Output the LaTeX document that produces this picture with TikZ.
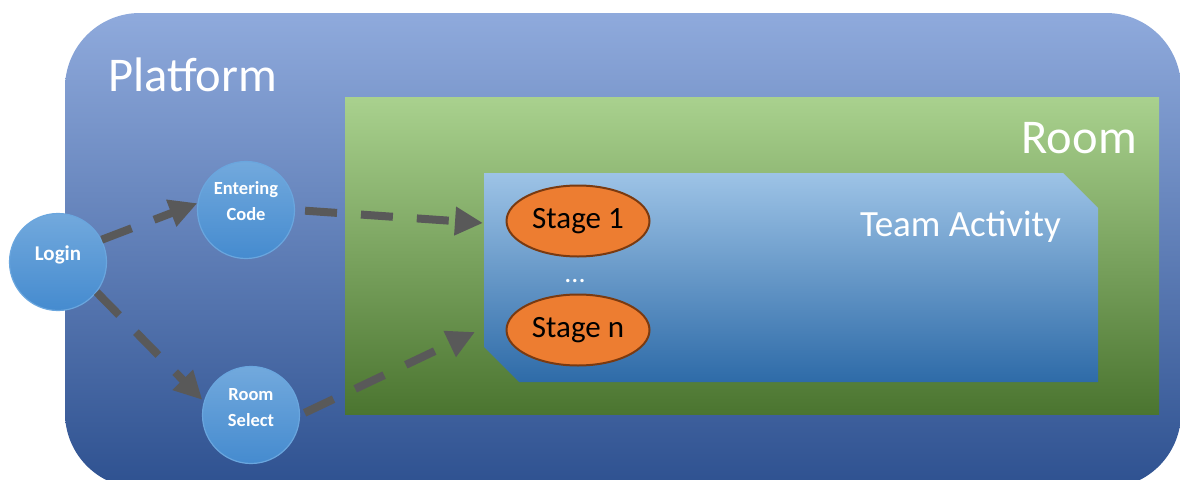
\documentclass[tikz,border=0pt]{standalone}
\usepackage{fontspec}
\setmainfont{Carlito}
\usetikzlibrary{arrows.meta,shapes.geometric}
\definecolor{platTop}{HTML}{8FAADC}
\definecolor{platMid}{HTML}{4472C4}
\definecolor{platBot}{HTML}{2E5190}
\definecolor{roomTop}{HTML}{A9D18E}
\definecolor{roomMid}{HTML}{70AD47}
\definecolor{roomBot}{HTML}{4B7530}
\definecolor{taTop}{HTML}{9DC3E6}
\definecolor{taMid}{HTML}{5B9BD5}
\definecolor{taBot}{HTML}{2E6BA8}
\definecolor{circTop}{HTML}{72A9DD}
\definecolor{circBot}{HTML}{458BCF}
\definecolor{circEdge}{HTML}{6AA6DE}
\definecolor{stageFill}{HTML}{ED7D31}
\definecolor{stageEdge}{HTML}{7A3A10}
\definecolor{arrowGray}{HTML}{595959}
\tikzset{
  wtext/.style={text=white, inner sep=0pt},
  circnode/.style={circle, minimum size=97pt, inner sep=0pt, top color=circTop, bottom color=circBot, draw=circEdge, line width=1.2pt},
  ctext/.style={text=white, inner sep=0pt, align=center, font=\bfseries\fontsize{18.5}{26}\selectfont},
  stage/.style={ellipse, minimum width=143pt, minimum height=71pt, inner sep=0pt, fill=stageFill, draw=stageEdge, line width=2pt, font=\fontsize{31}{31}\selectfont},
  flow/.style={draw=arrowGray, line width=8pt, dash pattern=on 32pt off 24pt, -{Triangle[length=28pt,width=27pt]}}
}
\begin{document}
\begin{tikzpicture}[x=1pt,y=-1pt]
\useasboundingbox (0,0) rectangle (1180,479);
\fill[white] (0,0) rectangle (1180,479);
\begin{scope}
\clip (0,0) rectangle (1180,479);
% platform
\shade[top color=platTop, middle color=platMid, bottom color=platBot, rounded corners=75pt] (65,13) rectangle (1181,488);
\end{scope}
% room
\shade[top color=roomTop, middle color=roomMid, bottom color=roomBot] (345,97) rectangle (1159,414);
% team activity
\shade[top color=taTop, middle color=taMid, bottom color=taBot] (484,173) -- (1063,173) -- (1098,208) -- (1098,382) -- (519,382) -- (484,347) -- cycle;

\node[wtext, anchor=base west, font=\fontsize{48.5}{48.5}\selectfont] (plat) at (108,91) {Platform};
\node[wtext, anchor=base east, font=\fontsize{48.5}{48.5}\selectfont] (room) at (1137,153) {Room};
\node[wtext, anchor=base east, font=\fontsize{37}{37}\selectfont] (team) at (1061,236) {Team Activity};

\node[stage] (s1) at (578,221) {Stage 1};
\node[stage] (sn) at (578,330) {Stage n};
\node[wtext, anchor=base, font=\fontsize{28}{28}\selectfont] (dots) at (575,282) {...};

\node[circnode] (login) at (58,262) {};
\node[circnode] (ec) at (246,210) {};
\node[circnode] (rs) at (251,415) {};
\node[text=white, inner sep=0pt, anchor=base, font=\bfseries\fontsize{21}{21}\selectfont] (loginT) at (58,260) {Login};
\node[ctext] (ecT) at (246,201.5) {Entering\\Code};
\node[ctext] (rsT) at (251,408) {Room\\Select};

\coordinate (in1) at (483,223);
\coordinate (in2) at (475,332);

\draw[flow] (login.27) -- (ec.172);
\draw[flow] (login.-38) -- ([xshift=-2pt]rs.162);
\draw[flow, shorten <=10pt] (ec.east) -- (in1);
\draw[flow, shorten <=5pt] (rs.east) -- (in2);
\end{tikzpicture}
\end{document}
